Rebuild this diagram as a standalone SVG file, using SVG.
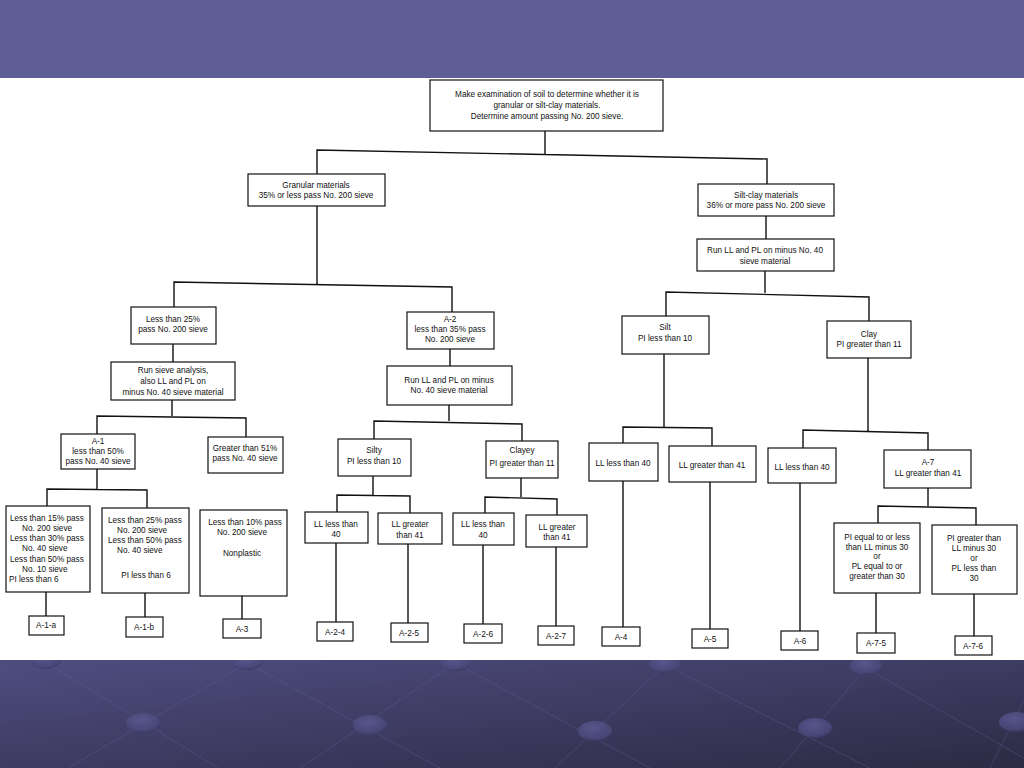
<svg xmlns="http://www.w3.org/2000/svg" width="1024" height="768" viewBox="0 0 1024 768">
<defs>
<linearGradient id="bot" x1="0" y1="0" x2="1" y2="1">
<stop offset="0" stop-color="#4f4d80"/>
<stop offset="1" stop-color="#2c2b44"/>
</linearGradient>
<radialGradient id="dot" cx="0.45" cy="0.35" r="0.65">
<stop offset="0" stop-color="#5a5890"/>
<stop offset="0.8" stop-color="#4a4879"/>
<stop offset="1" stop-color="#3a3862"/>
</radialGradient>
<clipPath id="band"><rect x="0" y="660" width="1024" height="108"/></clipPath>
<style>
.box{fill:#fff;stroke:#111;stroke-width:1.2}
.c{fill:none;stroke:#111;stroke-width:1.4}
.t{font-family:"Liberation Sans",Arial,sans-serif;font-size:8.2px;fill:#111;text-anchor:middle}
.l{text-anchor:start}
.deco{stroke:#6664a0;stroke-width:1;opacity:0.35;fill:none}
.dot{fill:url(#dot);opacity:0.9}
</style>
</defs>
<g id="background">
<rect x="0" y="0" width="1024" height="78" fill="#5f5e96"/>
<rect x="0" y="78" width="1024" height="582" fill="#fff"/>
<g clip-path="url(#band)">
<rect x="0" y="660" width="1024" height="108" fill="url(#bot)"/>
<path class="deco" d="M45,662 L218,768 M247,663 L68,768 M247,663 L440,768 M455,663 L300,768 M455,663 L650,768 M665,665 L555,768 M665,665 L870,768 M866,668 L780,768 M866,668 L1024,758 M1024,700 L990,768"/>
<ellipse class="dot" cx="45" cy="660" rx="16" ry="9"/>
<ellipse class="dot" cx="247" cy="661" rx="16" ry="9"/>
<ellipse class="dot" cx="455" cy="662" rx="16" ry="9"/>
<ellipse class="dot" cx="665" cy="664" rx="16" ry="9"/>
<ellipse class="dot" cx="866" cy="666" rx="16" ry="9"/>
<ellipse class="dot" cx="143" cy="723" rx="17" ry="10"/>
<ellipse class="dot" cx="370" cy="725" rx="17" ry="10"/>
<ellipse class="dot" cx="595" cy="731" rx="17" ry="10"/>
<ellipse class="dot" cx="815" cy="728" rx="17" ry="10"/>
<ellipse class="dot" cx="1016" cy="722" rx="17" ry="10"/>
</g>
</g>
<g id="connectors">
<path class="c" d="M545,131 L545,154 M317,174 L317,150 L767,159 L767,184"/>
<path class="c" d="M317,206 L317,284 M174,307 L174,282 L452,287 L452,312"/>
<path class="c" d="M766,216 L766,239 M765,271 L765,293 M666,316 L666,292 L869,297 L869,321"/>
<path class="c" d="M173,344 L173,362 M172,400 L172,416 M97,434 L97,416 L246,418 L246,437"/>
<path class="c" d="M450,349 L450,366 M449,405 L449,421 M374,439 L374,421 L522,424 L522,441"/>
<path class="c" d="M97,469 L97,489 M47,506 L47,489 L147,490 L147,508"/>
<path class="c" d="M373,476 L373,495 M337,512 L337,495 L410,496 L410,513"/>
<path class="c" d="M521,478 L521,497 M485,513 L485,497 L557,499 L557,515"/>
<path class="c" d="M664,354 L664,427 M623,443 L623,427 L712,428 L712,446"/>
<path class="c" d="M868,358 L868,431 M803,448 L803,430 L928,433 L928,450"/>
<path class="c" d="M928,488 L928,506 M878,523 L878,506 L976,508 L976,525"/>
<path class="c" d="M46,592 L46,616 M145,593 L145,617 M242,596 L242,619"/>
<path class="c" d="M336,543 L336,622 M408,544 L408,623 M483,545 L483,624 M556,547 L556,626"/>
<path class="c" d="M623,481 L623,627 M710,482 L710,629 M800,483 L800,631 M876,593 L876,633 M974,594 L974,636"/>
</g>
<g id="n-root"><rect class="box" x="430" y="80" width="233" height="51"/>
<text class="t" x="547" y="97">Make examination of soil to determine whether it is</text>
<text class="t" x="547" y="108">granular or silt-clay materials.</text>
<text class="t" x="547" y="119">Determine amount passing No. 200 sieve.</text></g>
<g id="n-granular"><rect class="box" x="248" y="174" width="137" height="32"/>
<text class="t" x="316" y="188">Granular materials</text>
<text class="t" x="316" y="198">35% or less pass No. 200 sieve</text></g>
<g id="n-siltclay"><rect class="box" x="698" y="184" width="136" height="32"/>
<text class="t" x="766" y="198">Silt-clay materials</text>
<text class="t" x="766" y="208">36% or more pass No. 200 sieve</text></g>
<g id="n-runll-right"><rect class="box" x="697" y="239" width="137" height="32"/>
<text class="t" x="765" y="253">Run LL and PL on minus No. 40</text>
<text class="t" x="765" y="264">sieve material</text></g>
<g id="n-less25"><rect class="box" x="131" y="307" width="85" height="37"/>
<text class="t" x="173" y="322">Less than 25%</text>
<text class="t" x="173" y="332">pass No. 200 sieve</text></g>
<g id="n-a2"><rect class="box" x="407" y="312" width="87" height="37"/>
<text class="t" x="450" y="322">A-2</text>
<text class="t" x="450" y="332">less than 35% pass</text>
<text class="t" x="450" y="342">No. 200 sieve</text></g>
<g id="n-silt"><rect class="box" x="622" y="316" width="87" height="38"/>
<text class="t" x="665" y="330">Silt</text>
<text class="t" x="665" y="341">PI less than 10</text></g>
<g id="n-clay"><rect class="box" x="827" y="321" width="84" height="37"/>
<text class="t" x="869" y="337">Clay</text>
<text class="t" x="869" y="347">PI greater than 11</text></g>
<g id="n-runsieve"><rect class="box" x="111" y="362" width="124" height="38"/>
<text class="t" x="173" y="373">Run sieve analysis,</text>
<text class="t" x="173" y="384">also LL and PL on</text>
<text class="t" x="173" y="395">minus No. 40 sieve material</text></g>
<g id="n-runll-mid"><rect class="box" x="387" y="366" width="125" height="39"/>
<text class="t" x="449" y="383">Run LL and PL on minus</text>
<text class="t" x="449" y="393">No. 40 sieve material</text></g>
<g id="n-a1"><rect class="box" x="61" y="434" width="74" height="35"/>
<text class="t" x="98" y="444">A-1</text>
<text class="t" x="98" y="454">less than 50%</text>
<text class="t" x="98" y="464">pass No. 40 sieve</text></g>
<g id="n-greater51"><rect class="box" x="208" y="437" width="75" height="36"/>
<text class="t" x="245" y="451">Greater than 51%</text>
<text class="t" x="245" y="461">pass No. 40 sieve</text></g>
<g id="n-silty"><rect class="box" x="338" y="439" width="73" height="37"/>
<text class="t" x="374" y="453">Silty</text>
<text class="t" x="374" y="464">PI less than 10</text></g>
<g id="n-clayey"><rect class="box" x="486" y="441" width="72" height="37"/>
<text class="t" x="522" y="453">Clayey</text>
<text class="t" x="522" y="466">PI greater than 11</text></g>
<g id="n-silt-ll40"><rect class="box" x="589" y="443" width="69" height="38"/>
<text class="t" x="623" y="466">LL less than 40</text></g>
<g id="n-silt-ll41"><rect class="box" x="669" y="446" width="87" height="36"/>
<text class="t" x="712" y="468">LL greater than 41</text></g>
<g id="n-clay-ll40"><rect class="box" x="768" y="448" width="68" height="35"/>
<text class="t" x="802" y="470">LL less than 40</text></g>
<g id="n-a7"><rect class="box" x="884" y="450" width="87" height="38"/>
<text class="t" x="928" y="465">A-7</text>
<text class="t" x="928" y="476">LL greater than 41</text></g>
<g id="n-a1a-crit"><rect class="box" x="6" y="506" width="84" height="86"/>
<text class="t l" x="10" y="521">Less than 15% pass</text>
<text class="t l" x="22" y="531">No. 200 sieve</text>
<text class="t l" x="10" y="541">Less than 30% pass</text>
<text class="t l" x="22" y="551">No. 40 sieve</text>
<text class="t l" x="10" y="562">Less than 50% pass</text>
<text class="t l" x="22" y="572">No. 10 sieve</text>
<text class="t l" x="9" y="582">PI less than 6</text></g>
<g id="n-a1b-crit"><rect class="box" x="102" y="508" width="87" height="85"/>
<text class="t l" x="108" y="523">Less than 25% pass</text>
<text class="t l" x="117" y="533">No. 200 sieve</text>
<text class="t l" x="108" y="543">Less than 50% pass</text>
<text class="t l" x="117" y="553">No. 40 sieve</text>
<text class="t" x="146" y="578">PI less than 6</text></g>
<g id="n-a3-crit"><rect class="box" x="200" y="510" width="87" height="86"/>
<text class="t" x="245" y="525">Less than 10% pass</text>
<text class="t" x="242" y="535">No. 200 sieve</text>
<text class="t" x="242" y="556">Nonplastic</text></g>
<g id="n-a24-crit"><rect class="box" x="305" y="512" width="63" height="31"/>
<text class="t" x="336" y="527">LL less than</text>
<text class="t" x="336" y="537">40</text></g>
<g id="n-a25-crit"><rect class="box" x="378" y="513" width="64" height="31"/>
<text class="t" x="410" y="527">LL greater</text>
<text class="t" x="410" y="538">than 41</text></g>
<g id="n-a26-crit"><rect class="box" x="453" y="513" width="61" height="32"/>
<text class="t" x="483" y="527">LL less than</text>
<text class="t" x="483" y="538">40</text></g>
<g id="n-a27-crit"><rect class="box" x="526" y="515" width="61" height="32"/>
<text class="t" x="557" y="530">LL greater</text>
<text class="t" x="557" y="540">than 41</text></g>
<g id="n-a75-crit"><rect class="box" x="834" y="523" width="86" height="70"/>
<text class="t" x="877" y="540">PI equal to or less</text>
<text class="t" x="877" y="550">than LL minus 30</text>
<text class="t" x="877" y="559">or</text>
<text class="t" x="877" y="569">PL equal to or</text>
<text class="t" x="877" y="579">greater than 30</text></g>
<g id="n-a76-crit"><rect class="box" x="932" y="525" width="85" height="69"/>
<text class="t" x="974" y="541">PI greater than</text>
<text class="t" x="974" y="551">LL minus 30</text>
<text class="t" x="974" y="561">or</text>
<text class="t" x="974" y="571">PL less than</text>
<text class="t" x="974" y="581">30</text></g>
<g id="n-a1a"><rect class="box" x="29" y="616" width="35" height="19"/><text class="t" x="46" y="628">A-1-a</text></g>
<g id="n-a1b"><rect class="box" x="126" y="617" width="37" height="20"/><text class="t" x="144" y="630">A-1-b</text></g>
<g id="n-a3"><rect class="box" x="223" y="619" width="38" height="19"/><text class="t" x="242" y="632">A-3</text></g>
<g id="n-a24"><rect class="box" x="317" y="622" width="36" height="19"/><text class="t" x="335" y="635">A-2-4</text></g>
<g id="n-a25"><rect class="box" x="391" y="623" width="37" height="19"/><text class="t" x="409" y="636">A-2-5</text></g>
<g id="n-a26"><rect class="box" x="464" y="624" width="38" height="19"/><text class="t" x="483" y="637">A-2-6</text></g>
<g id="n-a27"><rect class="box" x="538" y="626" width="36" height="19"/><text class="t" x="556" y="639">A-2-7</text></g>
<g id="n-a4"><rect class="box" x="602" y="627" width="38" height="19"/><text class="t" x="621" y="640">A-4</text></g>
<g id="n-a5"><rect class="box" x="692" y="629" width="36" height="19"/><text class="t" x="710" y="642">A-5</text></g>
<g id="n-a6"><rect class="box" x="781" y="631" width="37" height="19"/><text class="t" x="800" y="644">A-6</text></g>
<g id="n-a75"><rect class="box" x="857" y="633" width="38" height="20"/><text class="t" x="876" y="646">A-7-5</text></g>
<g id="n-a76"><rect class="box" x="955" y="636" width="37" height="19"/><text class="t" x="973" y="649">A-7-6</text></g>
</svg>
